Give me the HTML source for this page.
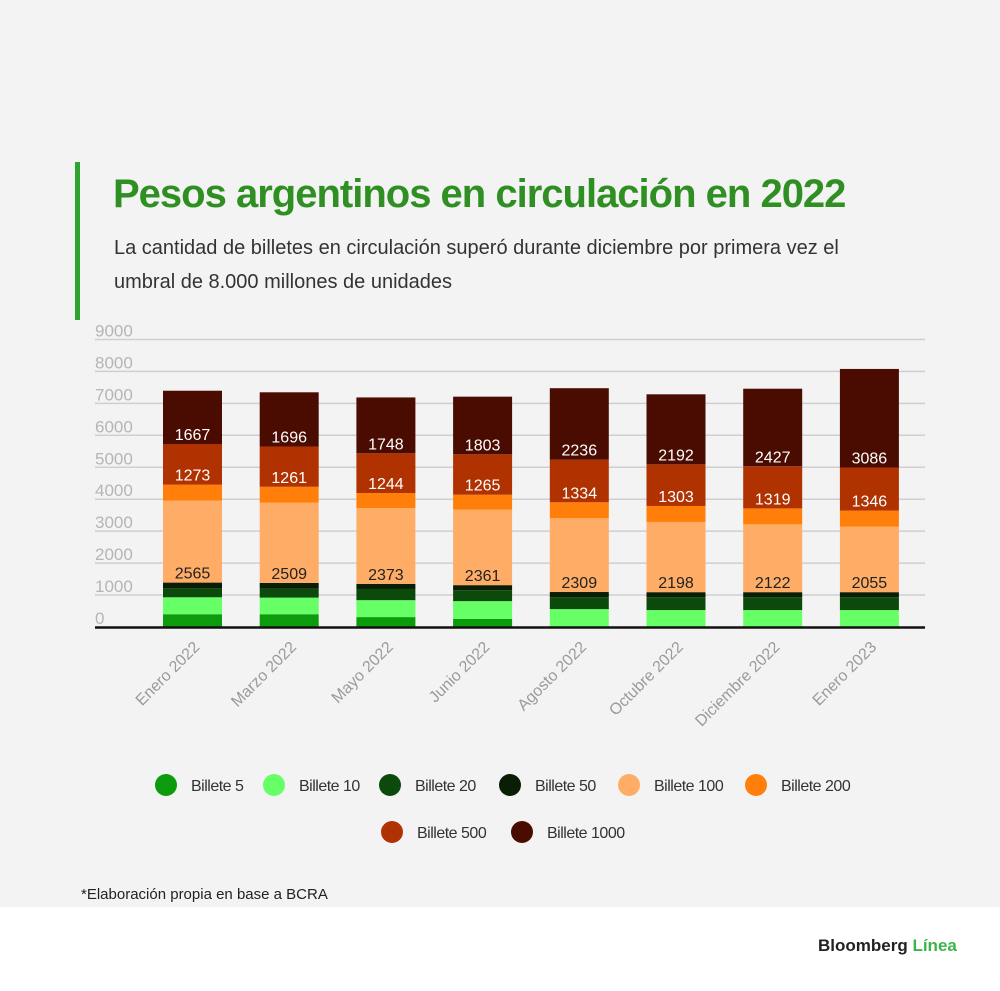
<!DOCTYPE html>
<html><head><meta charset="utf-8"><style>
body{margin:0;width:1000px;height:991px;overflow:hidden;font-family:"Liberation Sans",sans-serif;background:#fff;}
#bg{position:absolute;left:0;top:0;width:1000px;height:907px;background:#f3f3f3;}
.t{position:absolute;white-space:nowrap;}
</style></head><body>
<div id="bg"></div>
<div class="t" style="left:75px;top:162px;width:5px;height:158px;background:#2fa32f"></div>
<div class="t" style="left:113px;top:172px;font-size:40px;font-weight:bold;color:#2f8f22;letter-spacing:-1px">Pesos argentinos en circulación en 2022</div>
<div class="t" style="left:114px;top:231px;font-size:20px;color:#333;line-height:34px">La cantidad de billetes en circulación superó durante diciembre por primera vez el<br>umbral de 8.000 millones de unidades</div>
<svg id="chart" width="1000" height="907" style="position:absolute;left:0;top:0"></svg>
<div class="t" style="left:81px;top:886px;font-size:15px;color:#222">*Elaboración propia en base a BCRA</div>
<div class="t" style="left:818px;top:936px;font-size:17px;font-weight:bold;color:#222">Bloomberg <span style="color:#3bb54a">Línea</span></div>
<script>
const categories=["Enero 2022","Marzo 2022","Mayo 2022","Junio 2022","Agosto 2022","Octubre 2022","Diciembre 2022","Enero 2023"];
const b5=[400,400,310,250,0,0,0,0];
const b10=[530,520,530,560,560,530,530,530];
const b20=[280,280,350,340,375,400,400,400];
const b50=[180,180,160,160,160,160,160,160];
const b100=[2565,2509,2373,2361,2309,2198,2122,2055];
const b200=[500,500,470,470,500,500,500,500];
const b500=[1273,1261,1244,1265,1334,1303,1319,1346];
const b1000=[1667,1696,1748,1803,2236,2192,2427,3086];
const yTicks=[0,1000,2000,3000,4000,5000,6000,7000,8000,9000];
const series=[
 {name:"Billete 5",v:b5,c:"#0c9b0c",lab:false},
 {name:"Billete 10",v:b10,c:"#66ff66",lab:false},
 {name:"Billete 20",v:b20,c:"#0c4a0c",lab:false},
 {name:"Billete 50",v:b50,c:"#0a1e05",lab:false},
 {name:"Billete 100",v:b100,c:"#ffad66",lab:true,tc:"#222"},
 {name:"Billete 200",v:b200,c:"#ff7f0a",lab:false},
 {name:"Billete 500",v:b500,c:"#b03200",lab:true,tc:"#fff"},
 {name:"Billete 1000",v:b1000,c:"#4a0c00",lab:true,tc:"#fff"}];
const svg=document.getElementById('chart');
const NS="http://www.w3.org/2000/svg";
const y=v=>627-v*0.03195;
const x=i=>163+i*96.7;
const bw=59;
function mk(t,a){const e=document.createElementNS(NS,t);for(const k in a)e.setAttribute(k,a[k]);svg.appendChild(e);return e;}
yTicks.forEach(t=>{
 if(t>0){const l=mk('line',{x1:95,x2:925,y1:y(t),y2:y(t),stroke:'#cfcfcf','stroke-width':1.5});
 
 }
 const tx=mk('text',{x:95,y:y(t)-3,'font-size':17,fill:'#b5b5b5','font-family':'Liberation Sans'});
 tx.textContent=t;
 
 
});
categories.forEach((c,i)=>{
 let acc=0;
 series.forEach(s=>{
  const v=s.v[i]; if(v<=0)return;
  const r=mk('rect',{x:x(i),y:y(acc+v),width:bw,height:y(acc)-y(acc+v),fill:s.c});
  
  
  if(s.lab){const t=mk('text',{x:x(i)+bw/2,y:y(acc)-4,'text-anchor':'middle','font-size':16,fill:s.tc,'font-family':'Liberation Sans'});
   t.textContent=v;
   
   }
  acc+=v;
 });
 const cx=x(i)+bw/2;
 const t=mk('text',{x:cx+8,y:648,'text-anchor':'end','font-size':16,fill:'#9a9a9a','font-family':'Liberation Sans',transform:`rotate(-45 ${cx+8} 648)`});
 t.textContent=c;
 
 
});
const ax=mk('line',{x1:95,x2:925,y1:627.5,y2:627.5,stroke:'#111','stroke-width':2.5});


const legPos=[[166,785],[274,785],[390,785],[510,785],[629,785],[756,785],[392,832],[522,832]];
series.forEach((s,i)=>{
 const [lx,ly]=legPos[i];
 const c=mk('circle',{cx:lx,cy:ly,r:11,fill:s.c});
 
 
 const t=mk('text',{x:lx+25,y:ly+6,'font-size':16,fill:'#333','font-family':'Liberation Sans','letter-spacing':'-0.5'});
 t.textContent=s.name;
 
 
});
</script>
</body></html>
